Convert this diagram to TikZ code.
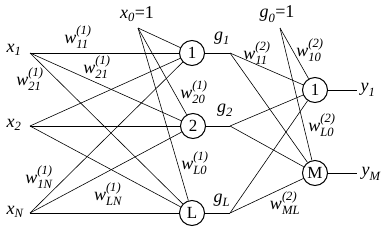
\documentclass[tikz,border=0pt]{standalone}
\usepackage{amsmath}
\usepackage{fontspec}
\setmainfont{Liberation Serif}
\newcommand{\wl}[2]{$\textit{w}^{\textit{(#1)}}_{\textit{#2}}$}
\newcommand{\vl}[2]{$\textit{#1}_{\textit{#2}}$}
\begin{document}
\begin{tikzpicture}[x=1pt,y=-1pt,
  neuron/.style={draw,circle,line width=1pt,minimum size=25pt,inner sep=0pt,font=\fontsize{17}{17}\selectfont},
  lab/.style={inner sep=0pt,font=\fontsize{18}{18}\selectfont},
  conn/.style={line width=0.6pt}]
\useasboundingbox (0,0) rectangle (385,236);
% input points
\coordinate (x1) at (30,53);
\coordinate (x2) at (30,126);
\coordinate (xN) at (30,213);
\coordinate (x0) at (138,28);
% hidden neurons
\node[neuron] (h1) at (192,53) {1};
\node[neuron] (h2) at (193,126) {2};
\node[neuron] (hL) at (192,213) {L};
% hidden outputs
\coordinate (g1) at (230,53);
\coordinate (g2) at (230,126);
\coordinate (gL) at (230,213);
\coordinate (g0) at (280,28);
% output neurons
\node[neuron] (o1) at (315,90) {1};
\node[neuron] (oM) at (315,173) {M};
\coordinate (y1) at (357,90);
\coordinate (yM) at (357,173);
% connections layer 1
\foreach \s in {x1,x2,xN,x0}
  \foreach \t in {h1,h2,hL}
    \draw[conn] (\s) -- (\t);
\draw[conn] (h1) -- (g1);
\draw[conn] (h2) -- (g2);
\draw[conn] (hL) -- (gL);
\foreach \s in {g1,g2,gL,g0}
  \foreach \t in {o1,oM}
    \draw[conn] (\s) -- (\t);
\draw[conn] (o1) -- (y1);
\draw[conn] (oM) -- (yM);
% labels
\node[lab] (lx1) at (14,50) {\vl{x}{1}};
\node[lab] (lx2) at (14,125) {\vl{x}{2}};
\node[lab] (lxN) at (15,212) {\vl{x}{N}};
\node[lab] (lx0) at (137,14) {\vl{x}{0}=1};
\node[lab] (lg0) at (277,14) {\vl{g}{0}=1};
\node[lab] (lg1) at (222,38) {\vl{g}{1}};
\node[lab] (lg2) at (225,110) {\vl{g}{2}};
\node[lab] (lgL) at (222,200) {\vl{g}{L}};
\node[lab] (ly1) at (368,90) {\vl{y}{1}};
\node[lab] (lyM) at (371,174) {\vl{y}{M}};
\node[lab] (w11a) at (78,37) {\wl{1}{11}};
\node[lab] (w21a) at (97,67) {\wl{1}{21}};
\node[lab] (w21b) at (30,79) {\wl{1}{21}};
\node[lab] (w20a) at (194,92) {\wl{1}{20}};
\node[lab] (w1Na) at (39,177) {\wl{1}{1N}};
\node[lab] (wLNa) at (108,194) {\wl{1}{LN}};
\node[lab] (wL0a) at (195,163) {\wl{1}{L0}};
\node[lab] (w11b) at (257,53) {\wl{2}{11}};
\node[lab] (w10b) at (310,50) {\wl{2}{10}};
\node[lab] (wL0b) at (322,125) {\wl{2}{L0}};
\node[lab] (wMLb) at (285,203) {\wl{2}{ML}};
\end{tikzpicture}
\end{document}
